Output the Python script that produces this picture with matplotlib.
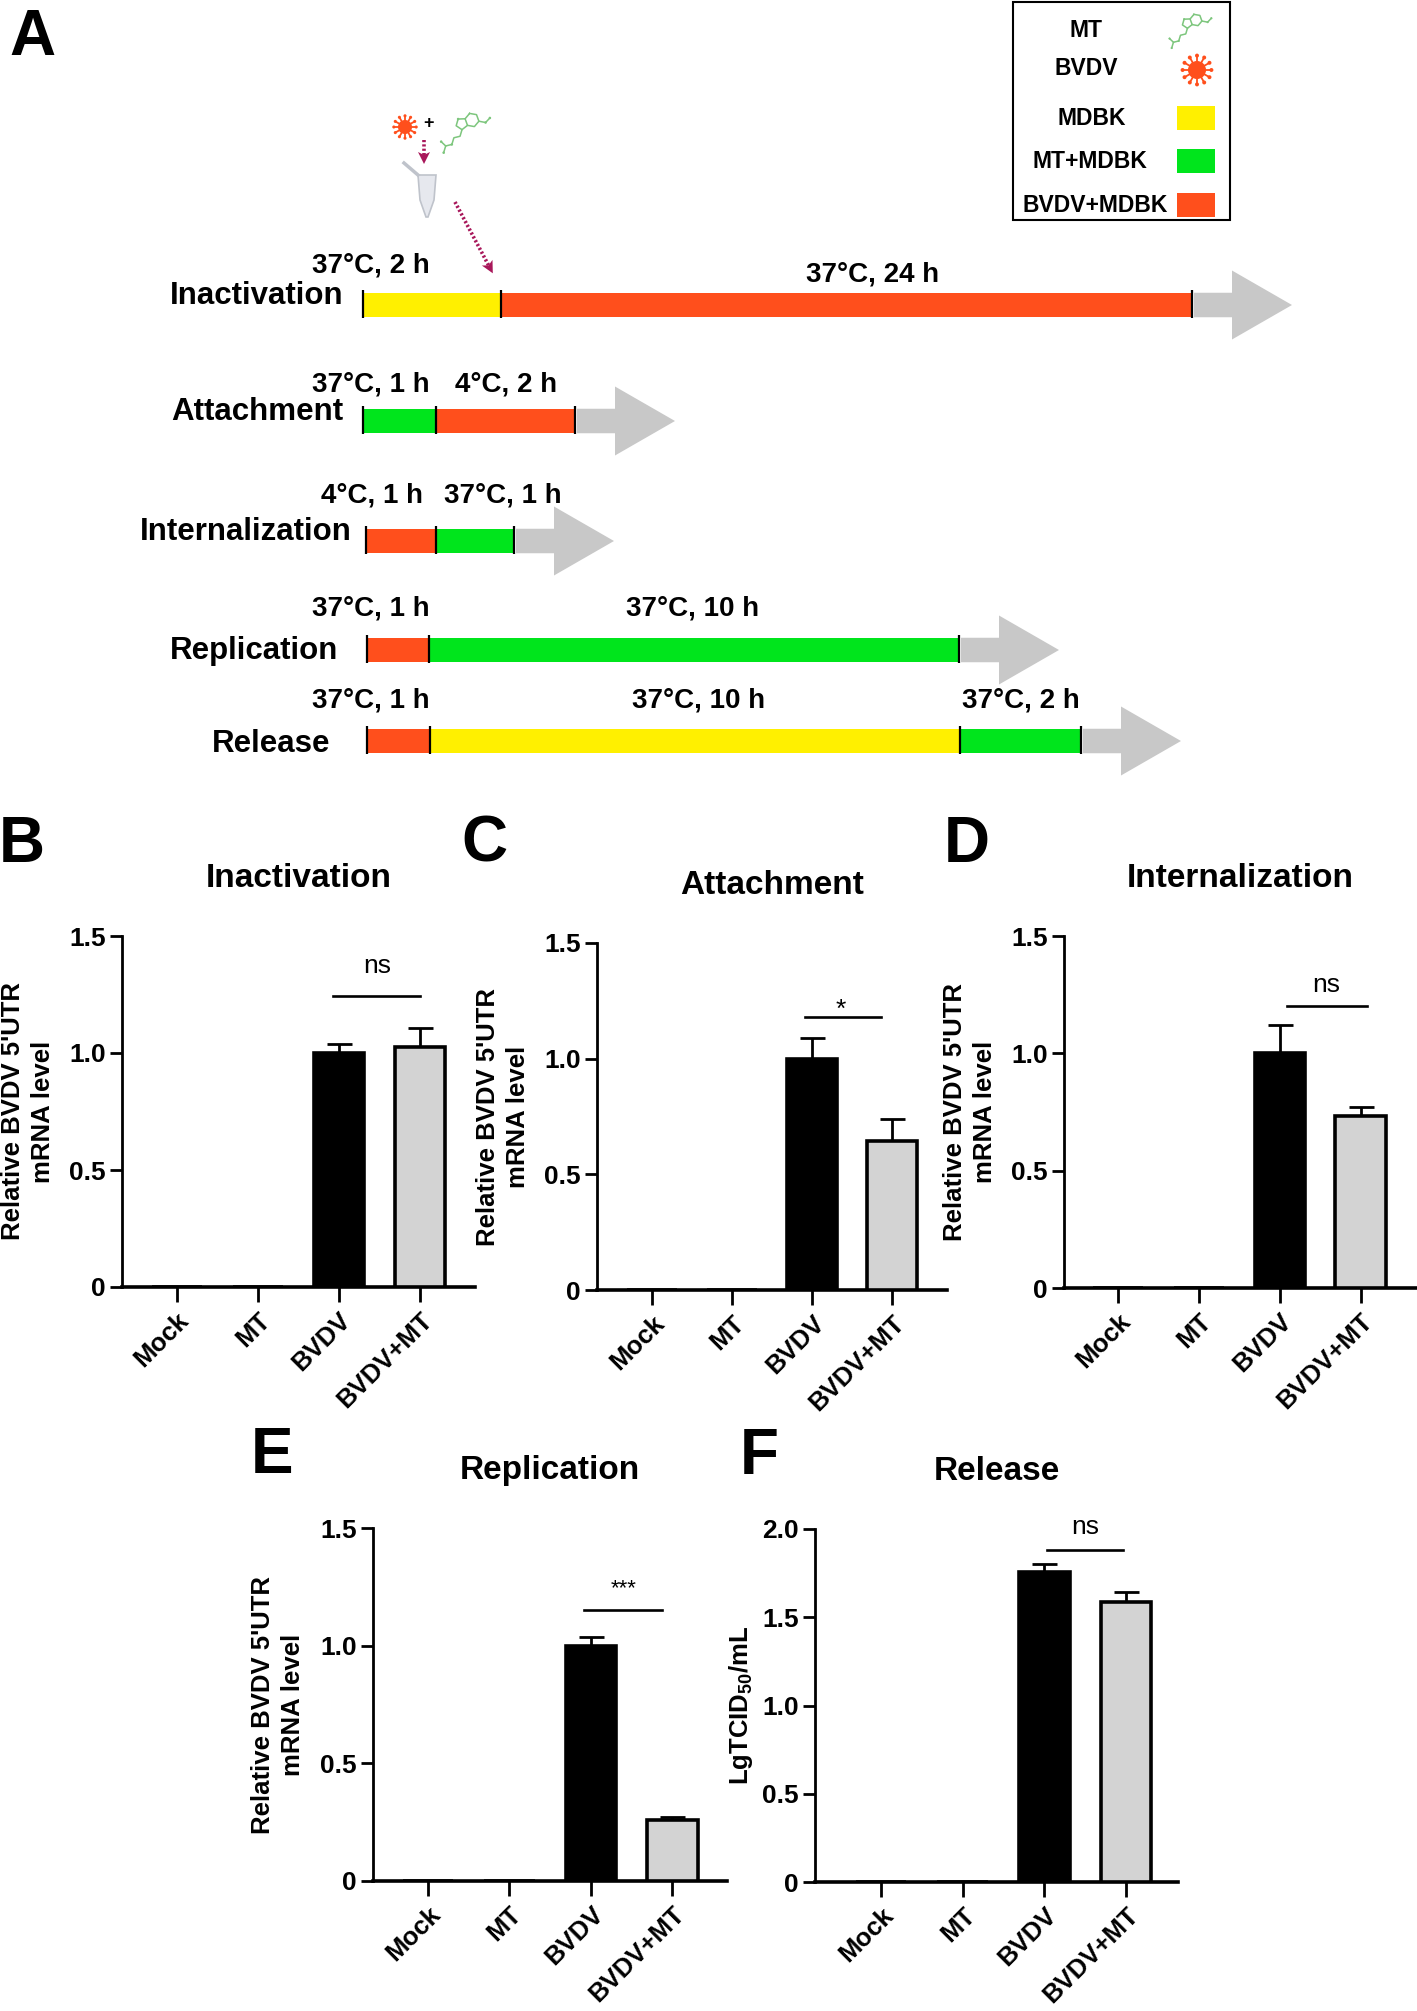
import numpy as np
import matplotlib
matplotlib.use('Agg')
import matplotlib.pyplot as plt
from matplotlib.patches import Rectangle, Polygon, Circle
from matplotlib.transforms import ScaledTranslation

plt.rcParams['font.family'] = ['Liberation Sans', 'DejaVu Sans']
plt.rcParams['font.weight'] = 'bold'
plt.rcParams['axes.titleweight'] = 'bold'
plt.rcParams['mathtext.fontset'] = 'custom'
plt.rcParams['mathtext.rm'] = 'Liberation Sans:bold'
plt.rcParams['mathtext.bf'] = 'Liberation Sans:bold'

W, H = 1417, 2011

# ---------------- panel A : schematic ----------------
stages = ['Inactivation', 'Attachment', 'Internalization', 'Replication', 'Release']
seg_cond = [['MDBK', 'BVDV+MDBK'],
            ['MT+MDBK', 'BVDV+MDBK'],
            ['BVDV+MDBK', 'MT+MDBK'],
            ['BVDV+MDBK', 'MT+MDBK'],
            ['BVDV+MDBK', 'MDBK', 'MT+MDBK']]
seg_text = [['37°C, 2 h', '37°C, 24 h'],
            ['37°C, 1 h', '4°C, 2 h'],
            ['4°C, 1 h', '37°C, 1 h'],
            ['37°C, 1 h', '37°C, 10 h'],
            ['37°C, 1 h', '37°C, 10 h', '37°C, 2 h']]
legend_labels = ['MT', 'BVDV', 'MDBK', 'MT+MDBK', 'BVDV+MDBK']
cond_colors = {'MDBK': '#FFF000', 'MT+MDBK': '#00E51C', 'BVDV+MDBK': '#FF4F1C'}

# layout of the schematic (pixels)
row_y = [305, 421, 541, 650, 741]
seg_edges = [[363, 501, 1192], [363, 436, 575], [366, 436, 514],
             [367, 429, 959], [367, 430, 960, 1081]]
text_x = [[371, 873], [371, 506], [372, 503], [371, 693], [371, 699, 1021]]
text_base = [[272, 281], [391, 391], [502, 502], [615, 615], [708, 708, 708]]
stage_x = [343, 343, 352, 338, 330]
stage_base = [304, 420, 540, 659, 752]

# ---------------- panels B-F : bar charts ----------------
groups = ['Mock', 'MT', 'BVDV', 'BVDV+MT']
titles = ['Inactivation', 'Attachment', 'Internalization', 'Replication', 'Release']
letters = ['B', 'C', 'D', 'E', 'F']
means = [[0, 0, 1.00, 1.025],
         [0, 0, 1.00, 0.645],
         [0, 0, 1.00, 0.735],
         [0, 0, 1.00, 0.26],
         [0, 0, 1.755, 1.585]]
sems = [[0, 0, 0.04, 0.08],
        [0, 0, 0.09, 0.095],
        [0, 0, 0.12, 0.035],
        [0, 0, 0.035, 0.01],
        [0, 0, 0.045, 0.06]]
sig_text = ['ns', '*', 'ns', '***', 'ns']
sig_y = [1.245, 1.18, 1.20, 1.15, 1.88]
ylabels = ["Relative BVDV 5'UTR\nmRNA level"] * 4 + [r'LgTCID$_{50}$/mL']
ymax = [1.5, 1.5, 1.5, 1.5, 2.0]
yticks = [[0, 0.5, 1.0, 1.5]] * 4 + [[0, 0.5, 1.0, 1.5, 2.0]]

panel_px = [(121.7, 475, 936, 1287), (597, 947, 943, 1290), (1063.5, 1417, 936, 1288),
            (372.5, 727, 1528, 1881), (815, 1178, 1529, 1882)]
xlims = [(-0.68, 3.68), (-0.69, 3.69), (-0.68, 3.70), (-0.68, 3.67), (-0.81, 3.64)]
sig_x = [(1.93, 3.0), (1.91, 2.86), (2.09, 3.08), (1.91, 2.87), (2.03, 2.96)]
sig_tx = [2.47, 2.36, 2.58, 2.40, 2.5]
sig_ty = [1.343, 1.18, 1.26, 1.218, 1.97]
letter_pos = [(22, 862), (484, 862), (967, 862), (272, 1473), (759, 1474)]
ylab_x = [28, 503, 970, 278, 741]

fig = plt.figure(figsize=(W / 100, H / 100), dpi=100)
ax0 = fig.add_axes([0, 0, 1, 1])
ax0.set_xlim(0, W)
ax0.set_ylim(H, 0)
ax0.axis('off')


def virus(ax, cx, cy, r):
    col = '#FF4F1C'
    ax.add_patch(Circle((cx, cy), r, color=col, lw=0))
    for a in np.linspace(0, 2 * np.pi, 12, endpoint=False):
        ax.plot([cx + r * np.cos(a), cx + 1.5 * r * np.cos(a)],
                [cy + r * np.sin(a), cy + 1.5 * r * np.sin(a)], color=col, lw=1.3)
        ax.add_patch(Circle((cx + 1.6 * r * np.cos(a), cy + 1.6 * r * np.sin(a)),
                            0.22 * r, color=col, lw=0))


def molecule(ax, cx, cy, s, rot=20):
    col = '#7DC67D'
    c, sn = np.cos(np.radians(rot)), np.sin(np.radians(rot))
    hexa = [(0, 1), (0.866, 0.5), (0.866, -0.5), (0, -1), (-0.866, -0.5), (-0.866, 0.5), (0, 1)]
    penta = [(-0.866, 0.5), (-1.817, 0.809), (-2.405, 0), (-1.817, -0.809), (-0.866, -0.5)]
    chain = [(-1.817, -0.809), (-2.4, -1.6), (-3.3, -1.5), (-3.9, -2.3), (-4.8, -2.2), (-5.4, -3.0)]
    oxo = [(-4.8, -2.2), (-5.2, -1.4)]
    meo = [(0.866, -0.5), (1.7, -1.0), (2.5, -0.6)]

    def tr(p):
        return cx + s * (p[0] * c - p[1] * sn), cy - s * (p[0] * sn + p[1] * c)

    for path in [hexa, penta, chain, oxo, meo]:
        pts = [tr(p) for p in path]
        ax.plot([q[0] for q in pts], [q[1] for q in pts], color=col, lw=1.1)
    for p in [(-1.817, 0.809), (-3.9, -2.3), (-5.2, -1.4), (1.7, -1.0), (2.5, -0.6), (-5.4, -3.0)]:
        ax.add_patch(Circle(tr(p), 0.18 * s, color=col, lw=0))


def dotted_arrow(ax, x1, y1, x2, y2, col='#A8175A'):
    ax.plot([x1, x2], [y1, y2], color=col, lw=2.6, ls=(0, (0.6, 0.6)))
    d = np.array([x2 - x1, y2 - y1]) / np.hypot(x2 - x1, y2 - y1)
    n = np.array([-d[1], d[0]])
    tip = np.array([x2, y2]) + d * 6
    base = np.array([x2, y2]) - d * 6
    ax.add_patch(Polygon([tip, base + n * 6, base + d * 3, base - n * 6], color=col, lw=0))


# schematic rows
bar_h = 24.5
for i, st in enumerate(stages):
    yc = row_y[i]
    edges = seg_edges[i]
    for j, cond in enumerate(seg_cond[i]):
        ax0.add_patch(Rectangle((edges[j], yc - bar_h / 2), edges[j + 1] - edges[j], bar_h,
                                color=cond_colors[cond], lw=0))
        ax0.text(text_x[i][j], text_base[i][j], seg_text[i][j], ha='center', va='baseline',
                 fontsize=20)
    xe = edges[-1] + 2
    ax0.add_patch(Polygon([(xe, yc - bar_h / 2), (xe + 38, yc - bar_h / 2), (xe + 38, yc - 34.5),
                           (xe + 98, yc), (xe + 38, yc + 34.5), (xe + 38, yc + bar_h / 2),
                           (xe, yc + bar_h / 2)], color='#C8C8C8', lw=0))
    for e in edges:
        ax0.plot([e, e], [yc - bar_h / 2 - 3, yc + bar_h / 2 + 1], color='k', lw=1.6,
                 solid_capstyle='butt')
    ax0.text(stage_x[i], stage_base[i], st, ha='right', va='baseline', fontsize=22.5)

# tube + icons above the inactivation row
virus(ax0, 405, 127, 7)
ax0.text(428, 123, '+', ha='center', va='center', fontsize=13)
molecule(ax0, 472, 120, 7)
dotted_arrow(ax0, 424, 140, 424, 158)
ax0.add_patch(Polygon([(418, 175), (436, 175), (434, 200), (428, 217), (426, 217), (420, 200)],
                      facecolor='#E6E8EE', edgecolor='#BFC3CB', lw=1.2))
ax0.plot([404, 418], [163, 175], color='#BFC3CB', lw=2.5)
dotted_arrow(ax0, 455, 202, 490, 268)

# legend box
ax0.add_patch(Rectangle((1013, 2), 217, 218, facecolor='none', edgecolor='k', lw=1.5))
leg_y = [30, 68, 118, 161, 205]
leg_x = [1086, 1086, 1092, 1090, 1095]
for lab, lx, ly in zip(legend_labels, leg_x, leg_y):
    ax0.text(lx, ly, lab, ha='center', va='center', fontsize=16.5)
    if lab in cond_colors:
        ax0.add_patch(Rectangle((1177, ly - 12), 38, 24, color=cond_colors[lab], lw=0))
molecule(ax0, 1196, 20, 6)
virus(ax0, 1197, 70, 9)

ax0.text(32, 55, 'A', ha='center', va='baseline', fontsize=46)

# bar charts
for k in range(5):
    l, r, t, b = panel_px[k]
    ax = fig.add_axes([l / W, 1 - b / H, (r - l) / W, (b - t) / H])
    x = np.arange(len(groups))
    m = np.array(means[k])
    e = np.array(sems[k])
    ax.bar(x, m, width=0.62, color=['k', '#D3D3D3', 'k', '#D3D3D3'], edgecolor='k',
           linewidth=2.6, zorder=3)
    sel = e > 0
    ax.errorbar(x[sel], m[sel], yerr=[np.zeros(sel.sum()), e[sel]], fmt='none', ecolor='k',
                elinewidth=2, capsize=9, capthick=2, zorder=2)
    ax.plot(sig_x[k], [sig_y[k], sig_y[k]], color='k', lw=1.9, clip_on=False)
    ax.text(sig_tx[k], sig_ty[k], sig_text[k], ha='center', va='baseline',
            fontsize=16 if sig_text[k] == '***' else 19, fontweight='normal')
    ax.set_xlim(*xlims[k])
    ax.set_ylim(0, ymax[k])
    ax.set_yticks(yticks[k])
    ax.set_yticklabels(['0' if v == 0 else '%.1f' % v for v in yticks[k]])
    ax.set_xticks(x)
    ax.set_xticklabels(groups, rotation=45, ha='right', va='top', rotation_mode='anchor')
    for lab in ax.get_xticklabels():
        lab.set_transform(lab.get_transform() + ScaledTranslation(2 / 72, 0, fig.dpi_scale_trans))
    for s in ['top', 'right']:
        ax.spines[s].set_visible(False)
    ax.spines['left'].set_linewidth(2.0)
    ax.spines['bottom'].set_linewidth(2.6)
    ax.tick_params(axis='y', length=8.5, width=2, pad=3, labelsize=19)
    ax.tick_params(axis='x', length=11, width=2, pad=4, labelsize=18.5)
    ax.patch.set_alpha(0)
    ax.set_title(titles[k], fontsize=24, fontweight='bold', pad=35)
    fig.text(ylab_x[k] / W, 1 - (t + b) / 2 / H, ylabels[k], rotation=90, ha='center',
             va='center', fontsize=18.5, linespacing=1.3, multialignment='center')
    fig.text(letter_pos[k][0] / W, 1 - letter_pos[k][1] / H, letters[k], ha='center',
             va='baseline', fontsize=46)

fig.savefig('out.png', dpi=100)
